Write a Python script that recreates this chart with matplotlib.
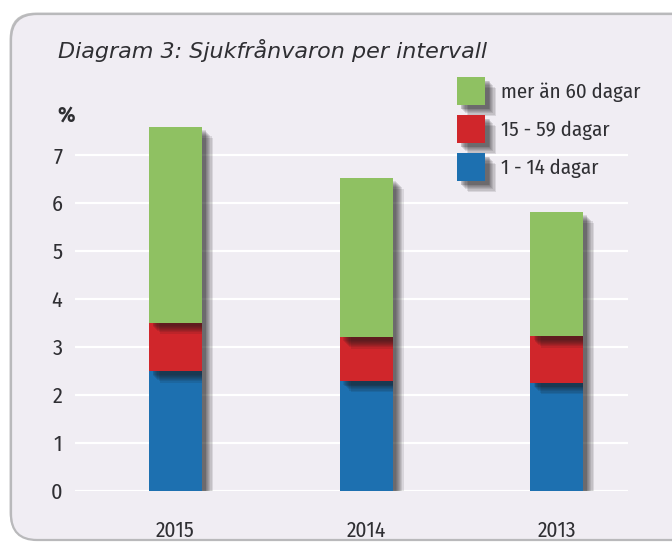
import matplotlib
matplotlib.use("Agg")
import matplotlib.pyplot as plt
import matplotlib.patheffects as pe
from matplotlib.patches import FancyBboxPatch, Patch
import numpy as np

# ---- data ----
years = ["2015", "2014", "2013"]
short_1_14 = [2.49, 2.29, 2.25]
mid_15_59 = [1.02, 0.91, 0.97]
long_60 = [4.08, 3.33, 2.60]
series_labels = ["1 - 14 dagar", "15 - 59 dagar", "mer än 60 dagar"]
y_ticks = [0, 1, 2, 3, 4, 5, 6, 7]
title = "Diagram 3: Sjukfrånvaron per intervall"
unit_label = "%"

colors = ["#1d70b0", "#d0262b", "#8fc162"]
bg = "#f0edf3"
txt = "#2f2f33"
narrow = ["Fira Sans Condensed", "Roboto Condensed", "DejaVu Sans"]

W, H = 672, 542
fig = plt.figure(figsize=(W / 100, H / 100), dpi=100)
fig.patch.set_facecolor("white")

# background frame
bgax = fig.add_axes([0, 0, 1, 1], zorder=-5)
bgax.set_xlim(0, W)
bgax.set_ylim(H, 0)
bgax.axis("off")
frame = FancyBboxPatch((11, 14), 720, 526, boxstyle="round,pad=0,rounding_size=26",
                       facecolor=bg, edgecolor="#b9b9bb", linewidth=1.6,
                       path_effects=[pe.SimplePatchShadow(offset=(-1, 1), shadow_rgbFace="#888888", alpha=0.5),
                                     pe.Normal()])
bgax.add_patch(frame)

YMAX = 7.8
ax = fig.add_axes([75 / W, 51 / H, 553 / W, YMAX * 48 / H])
ax.set_facecolor("none")
for s in ax.spines.values():
    s.set_visible(False)

def shadow_effects():
    effs = []
    for d in [8.0, 7.0, 6.0, 5.2, 4.5, 3.8, 3.2, 2.6]:
        effs.append(pe.SimplePatchShadow(offset=(d, -d), shadow_rgbFace="#1a1a1a", alpha=0.11))
    effs.append(pe.Normal())
    return effs

x = np.arange(len(years))
width = 0.278
bottom = np.zeros(len(years))
for vals, col, lab in zip([short_1_14, mid_15_59, long_60], colors, series_labels):
    bars = ax.bar(x, vals, width, bottom=bottom, color=col, label=lab, zorder=3)
    for b in bars:
        b.set_path_effects(shadow_effects())
    bottom = bottom + np.array(vals)

ax.set_xlim(-0.5276, 2.375)
ax.set_ylim(0, YMAX)
ax.set_yticks(y_ticks)
ax.set_yticklabels([str(t) for t in y_ticks], fontsize=16, color=txt, family=narrow, fontweight="normal")
ax.set_xticks(x)
ax.set_xticklabels(years, fontsize=15.5, color=txt, family=narrow, fontweight="normal")
ax.tick_params(axis="y", length=0, pad=9)
ax.tick_params(axis="x", length=0, pad=21)
ax.grid(axis="y", color="white", linewidth=1.6, zorder=1)
ax.set_axisbelow(True)

fig.text(58 / W, 1 - 58.5 / H, title, fontsize=16, style="italic", color=txt,
         family=["DejaVu Sans"], ha="left", va="baseline")
fig.text(57 / W, 1 - 122 / H, unit_label, fontsize=16, fontweight="bold", color=txt,
         family=narrow, ha="left", va="baseline")

handles = [Patch(facecolor=c, label=l, path_effects=shadow_effects()) for c, l in zip(colors, series_labels)]
leg = ax.legend(handles=handles[::-1], loc="upper left", bbox_to_anchor=(457 / W, 1 - 77 / H),
                bbox_transform=fig.transFigure, frameon=False, borderpad=0, borderaxespad=0,
                handlelength=1.35, handleheight=1.69, labelspacing=0.48,
                handletextpad=0.75, prop={"family": narrow, "size": 15, "weight": "normal"})
for t in leg.get_texts():
    t.set_color(txt)

fig.savefig("out.png", dpi=100, facecolor="white")
